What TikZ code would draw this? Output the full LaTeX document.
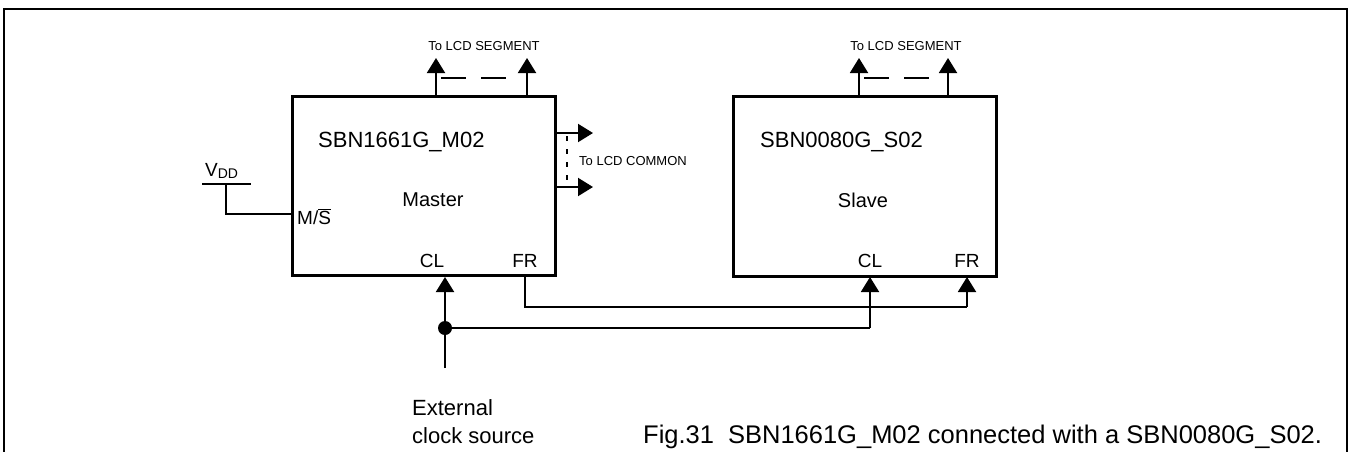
\documentclass[tikz,border=0pt]{standalone}
\usepackage{fontspec}
\setmainfont{Liberation Sans}
\usetikzlibrary{arrows.meta}
\newcommand{\fs}[1]{\fontsize{#1}{#1}\selectfont}
\begin{document}
\begin{tikzpicture}[x=1pt,y=-1pt,
  box/.style={draw, line width=3pt, inner sep=0pt},
  wire/.style={line width=2pt},
  arr/.style={wire, -{Triangle[length=15pt,width=18pt]}},
  lbl/.style={inner sep=0pt, anchor=base west},
  clbl/.style={inner sep=0pt, anchor=base},
  frame/.style={line width=2pt},
  dashseg/.style={line width=2pt, dash pattern=on 25pt off 15pt},
  dotcom/.style={line width=2pt, dash pattern=on 5pt off 8pt}]
\useasboundingbox (0,0) rectangle (1351,451);
% outer frame
\coordinate (f1) at (4,452);
\coordinate (f2) at (4,9);
\coordinate (f3) at (1347,9);
\coordinate (f4) at (1347,452);
\draw[frame] (f1) -- (f2) -- (f3) -- (f4);

% boxes
\node[box, minimum width=263pt, minimum height=179pt] (master) at (423.5,185.5) {};
\node[box, minimum width=263pt, minimum height=180pt] (slave) at (864.5,186) {};

% texts in boxes
\node[lbl] (mtitle) at (318,147) {\fs{22}SBN1661G\_M02};
\node[clbl] (mrole) at (433,206) {\fs{20}Master};
\node[lbl] (ms) at (297,224) {\fs{19}M/$\overline{\mbox{\fs{19}S}}$};
\node[clbl] (mcl) at (432,267) {\fs{19}CL};
\node[clbl] (mfr) at (525,267) {\fs{19}FR};

\node[lbl] (stitle) at (760,147) {\fs{22}SBN0080G\_S02};
\node[clbl] (srole) at (863,207) {\fs{20}Slave};
\node[clbl] (scl) at (870,267) {\fs{19}CL};
\node[clbl] (sfr) at (967,267) {\fs{19}FR};

% VDD
\node[lbl] (vdd) at (205,176) {\fs{19}V\raisebox{-2.5pt}{\fs{14}DD}};
\coordinate (vl) at (202,184);
\coordinate (vr) at (251,184);
\coordinate (vm) at (226,184);
\coordinate (vb) at (226,214);
\draw[wire] (vl) -- (vr);
\draw[wire] (vm) -- (vb) -- (vb -| master.west);

% segment outputs master
\coordinate (ms1) at (436,96);
\coordinate (ms1t) at (436,58);
\coordinate (ms2) at (527,96);
\coordinate (ms2t) at (527,58);
\draw[arr] (ms1) -- (ms1t);
\draw[arr] (ms2) -- (ms2t);
\draw[dashseg] (441,78) -- (517,78);
\node[clbl] (mseg) at (484,50) {\fs{13}To LCD SEGMENT};

% segment outputs slave
\coordinate (ss1) at (859,96);
\coordinate (ss1t) at (859,58);
\coordinate (ss2) at (948,96);
\coordinate (ss2t) at (948,58);
\draw[arr] (ss1) -- (ss1t);
\draw[arr] (ss2) -- (ss2t);
\draw[dashseg] (864,78) -- (938,78);
\node[clbl] (sseg) at (906,50) {\fs{13}To LCD SEGMENT};

% common outputs
\coordinate (c1) at (555,133);
\coordinate (c1t) at (593,133);
\coordinate (c2) at (555,187);
\coordinate (c2t) at (593,187);
\draw[arr] (c1) -- (c1t);
\draw[arr] (c2) -- (c2t);
\draw[dotcom] (567,136) -- (567,186);
\node[lbl] (com) at (579,165) {\fs{13}To LCD COMMON};

% clock
\coordinate (clksrc) at (445,368);
\coordinate (mclin) at (445,277);
\node[circle, fill, inner sep=0pt, minimum size=14pt] (dot) at (445,328) {};
\coordinate (sclin) at (870,277);
\coordinate (sclc) at (870,328);
\draw[arr] (clksrc) -- (mclin);
\draw[wire] (dot.center) -- (sclc);
\draw[arr] (sclc) -- (sclin);

% FR
\coordinate (mfrout) at (525,275);
\coordinate (fr1) at (525,307);
\coordinate (fr2) at (967,307);
\coordinate (sfrin) at (967,277);
\draw[wire] (mfrout) -- (fr1) -- (fr2);
\draw[arr] (fr2) -- (sfrin);

\node[lbl] (ext1) at (412,415) {\fs{22}External};
\node[lbl] (ext2) at (412,443) {\fs{22}clock source};

\node[lbl] (cap) at (643,443) {\fs{25.5}Fig.31\hspace{0.55em}SBN1661G\_M02 connected with a SBN0080G\_S02.};
\end{tikzpicture}
\end{document}
